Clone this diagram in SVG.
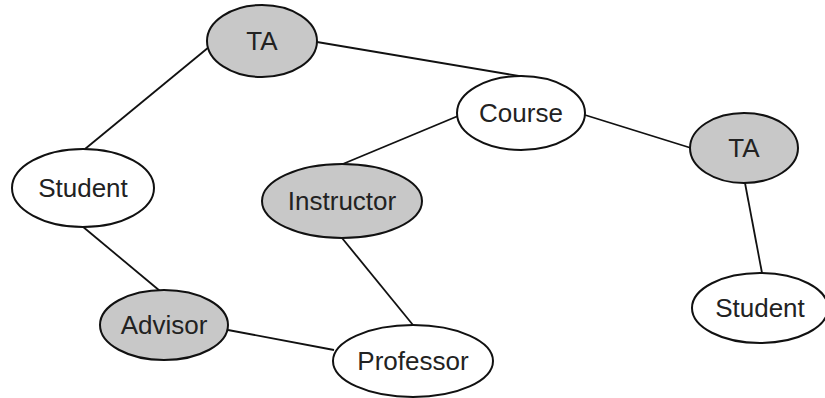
<svg xmlns="http://www.w3.org/2000/svg" width="825" height="398" viewBox="0 0 825 398">
<style>
.n ellipse{stroke:#111;stroke-width:2}
.g ellipse{fill:#c8c8c8}
.w ellipse{fill:#fff}
.n text{font-family:"Liberation Sans",Arial,sans-serif;font-size:26px;fill:#222;text-anchor:middle}
#edges line{stroke:#111;stroke-width:1.8}
</style>
<rect width="825" height="398" fill="#fff"/>
<g id="edges">
<line x1="209" y1="47" x2="85" y2="149"/>
<line x1="317" y1="42" x2="525" y2="77"/>
<line x1="458" y1="116" x2="338" y2="166"/>
<line x1="585" y1="115" x2="691" y2="148"/>
<line x1="745" y1="183" x2="762" y2="273"/>
<line x1="82" y1="226" x2="160" y2="291"/>
<line x1="342" y1="238" x2="413" y2="325"/>
<line x1="228" y1="330" x2="334" y2="350"/>
</g>
<g id="ta1" class="n g"><ellipse cx="262" cy="41" rx="55" ry="36"/><text x="262" y="50">TA</text></g>
<g id="course" class="n w"><ellipse cx="521" cy="113" rx="64" ry="37"/><text x="521" y="122">Course</text></g>
<g id="ta2" class="n g"><ellipse cx="744" cy="148" rx="54" ry="35"/><text x="744" y="157">TA</text></g>
<g id="student1" class="n w"><ellipse cx="83" cy="188" rx="71" ry="39"/><text x="83" y="197">Student</text></g>
<g id="instructor" class="n g"><ellipse cx="342" cy="201" rx="80" ry="37"/><text x="342" y="210">Instructor</text></g>
<g id="student2" class="n w"><ellipse cx="760" cy="308" rx="68" ry="35"/><text x="760" y="317">Student</text></g>
<g id="advisor" class="n g"><ellipse cx="164" cy="325" rx="64" ry="35"/><text x="164" y="334">Advisor</text></g>
<g id="professor" class="n w"><ellipse cx="413" cy="361" rx="80" ry="36"/><text x="413" y="370">Professor</text></g>
</svg>
